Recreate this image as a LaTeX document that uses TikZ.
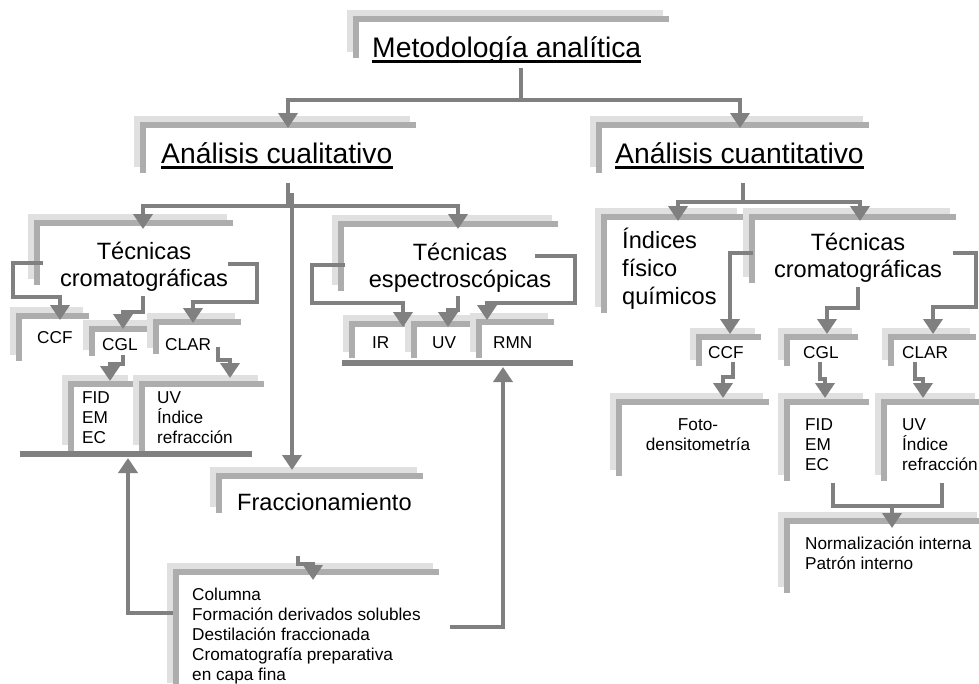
\documentclass[tikz,border=0pt]{standalone}
\usepackage{fontspec}
\setmainfont{Liberation Sans}
\usetikzlibrary{arrows.meta,calc}
\tikzset{
  lightband/.style={fill=gray!24},
  darkband/.style={fill=gray!64},
  conn/.style={draw=gray, line width=4pt},
  arr/.style={conn, -{Triangle[width=19pt,length=15pt]}},
  hbar/.style={draw=gray, line width=6pt},
  ul/.style={draw=black, line width=3pt},
  big/.style={font=\fontsize{28.3}{34}\selectfont, inner sep=0pt},
  mid/.style={font=\fontsize{23.6}{27}\selectfont, inner sep=0pt},
  small/.style={font=\fontsize{17.2}{20}\selectfont, inner sep=0pt},
}
\newcommand\shframe[4]{%
  \fill[lightband] (#1,#2) rectangle ++(#3,6);
  \fill[lightband] (#1,#2) rectangle ++(6,#4);
  \fill[darkband] ({#1+6},{#2+6}) rectangle ++(#3,6);
  \fill[darkband] ({#1+6},{#2+6}) rectangle ++(6,#4);}
\begin{document}
\begin{tikzpicture}[x=1pt,y=-1pt]
\useasboundingbox (0,0) rectangle (979,683);
% ---------- frames ----------
\shframe{347}{10}{316}{42}
\shframe{134}{116}{276}{51}
\shframe{590}{116}{273}{51}
\shframe{28}{214}{199}{65}
\shframe{332}{215}{220}{70}
\shframe{10}{307}{73}{48}
\shframe{83}{320}{64}{30}
\shframe{147}{313}{88}{35}
\shframe{62}{375}{66}{70}
\shframe{133}{375}{125}{70}
\shframe{343}{315}{57}{37}
\shframe{405}{315}{67}{37}
\shframe{470}{313}{78}{39}
\shframe{210}{467}{207}{40}
\shframe{167}{563}{266}{120}
\shframe{595}{208}{142}{99}
\shframe{743}{208}{207}{69}
\shframe{690}{328}{65}{32}
\shframe{778}{328}{74}{32}
\shframe{882}{328}{88}{32}
\shframe{610}{393}{153}{77}
\shframe{778}{393}{85}{82}
\shframe{875}{393}{100}{82}
\shframe{778}{512}{199}{75}
% ---------- texts (multi-line nodes: base = last line) ----------
\node[big, anchor=base west] (meto) at (372,57) {Metodología analítica};
\draw[ul] ($(meto.base west)+(0,4)$) -- ($(meto.base east)+(0,4)$);
\node[big, anchor=base west] (cual) at (161,163) {Análisis cualitativo};
\draw[ul] ($(cual.base west)+(0,4)$) -- ($(cual.base east)+(0,4)$);
\node[big, anchor=base west] (cuan) at (615,163) {Análisis cuantitativo};
\draw[ul] ($(cuan.base west)+(0,4)$) -- ($(cuan.base east)+(0,4)$);

\node[mid, align=center, anchor=base] (tcL) at (144,286) {Técnicas\\cromatográficas};
\node[mid, align=center, anchor=base] (te) at (460,287) {Técnicas\\espectroscópicas};
\node[mid, align=center, anchor=base] (tcR) at (858,277) {Técnicas\\cromatográficas};
\node[mid, align=left, anchor=base west, font=\fontsize{23.6}{28}\selectfont] (ind) at (622,304) {Índices\\físico\\químicos};
\node[mid, anchor=base west] (frac) at (237,510) {Fraccionamiento};

\node[small, anchor=base west] (ccfL) at (37,343) {CCF};
\node[small, anchor=base west] (cglL) at (102,350) {CGL};
\node[small, anchor=base west] (clarL) at (165,350) {CLAR};
\node[small, align=left, anchor=base west] (fidL) at (82,443) {FID\\EM\\EC};
\node[small, align=left, anchor=base west] (uvL) at (157,443) {UV\\Índice\\refracción};

\node[small, anchor=base west] (ir) at (372,348) {IR};
\node[small, anchor=base west] (uvM) at (432,348) {UV};
\node[small, anchor=base west] (rmn) at (493,348) {RMN};

\node[small, align=left, anchor=base west, font=\fontsize{17.2}{19.8}\selectfont] (list) at (192,680) {Columna\\Formación derivados solubles\\Destilación fraccionada\\Cromatografía preparativa\\en capa fina};

\node[small, anchor=base west] (ccfR) at (708,358) {CCF};
\node[small, anchor=base west] (cglR) at (803,358) {CGL};
\node[small, anchor=base west] (clarR) at (902,358) {CLAR};
\node[small, align=center, anchor=base] (foto) at (698,450) {Foto-\\densitometría};
\node[small, align=left, anchor=base west] (fidR) at (805,470) {FID\\EM\\EC};
\node[small, align=left, anchor=base west] (uvR) at (902,470) {UV\\Índice\\refracción};
\node[small, align=left, anchor=base west, font=\fontsize{17.2}{19.5}\selectfont] (norm) at (805,569) {Normalización interna\\Patrón interno};
% ---------- connectors ----------
\coordinate (m0) at (521,68);
\coordinate (mj) at (521,100);
\draw[conn] (m0) -- (mj);
\draw[arr] (mj) -| (288,128);
\draw[arr] (mj) -| (740,128);

\coordinate (q0) at (288,183);
\coordinate (qj) at (288,206);
\draw[conn] (q0) -- (qj);
\draw[arr] (qj) -| (143,229);
\draw[arr] (qj) -| (458,229);
\draw[arr] (292,193) -- (292,470);

\coordinate (n0) at (743,183);
\coordinate (nj) at (743,202);
\draw[conn] (n0) -- (nj);
\draw[arr] (nj) -| (678,221);
\draw[arr] (nj) -| (860,221);

\draw[arr] (43,263) -- (13,263) -- (13,297) -- (60,297) -- (60,320);
\draw[arr] (143,296) -- (143,312) -- (123,312) -- (123,329);
\draw[arr] (228,264) -- (257,264) -- (257,302) -- (193,302) -- (193,323);

\draw[arr] (123,355) -- (123,364) -- (110,364) -- (110,381);
\draw[arr] (218,347) -- (218,360) -- (230,360) -- (230,378);

\draw[hbar] (20,454) -- (252,454);
\draw[arr] (173,613) -- (128,613) -- (128,458);

\draw[arr] (298,556) -- (298,564) -- (313,564) -- (313,580);
\draw[hbar] (342,363) -- (573,363);
\draw[arr] (450,627) -- (503,627) -- (503,367);

\draw[arr] (345,265) -- (312,265) -- (312,303) -- (403,303) -- (403,327);
\draw[arr] (458,296) -- (458,310) -- (448,310) -- (448,327);
\draw[arr] (535,256) -- (575,256) -- (575,303) -- (487,303) -- (487,320);

\draw[arr] (753,253) -- (730,253) -- (730,334);
\draw[arr] (858,287) -- (858,308) -- (827,308) -- (827,334);
\draw[arr] (953,253) -- (976,253) -- (976,307) -- (933,307) -- (933,334);

\draw[arr] (733,362) -- (733,377) -- (723,377) -- (723,398);
\draw[arr] (820,362) -- (820,379) -- (825,379) -- (825,398);
\draw[arr] (915,362) -- (915,379) -- (923,379) -- (923,398);

\draw[conn] (833,483) -- (833,506) -- (942,506) -- (942,483);
\draw[arr] (892,506) -- (892,528);
\end{tikzpicture}
\end{document}
